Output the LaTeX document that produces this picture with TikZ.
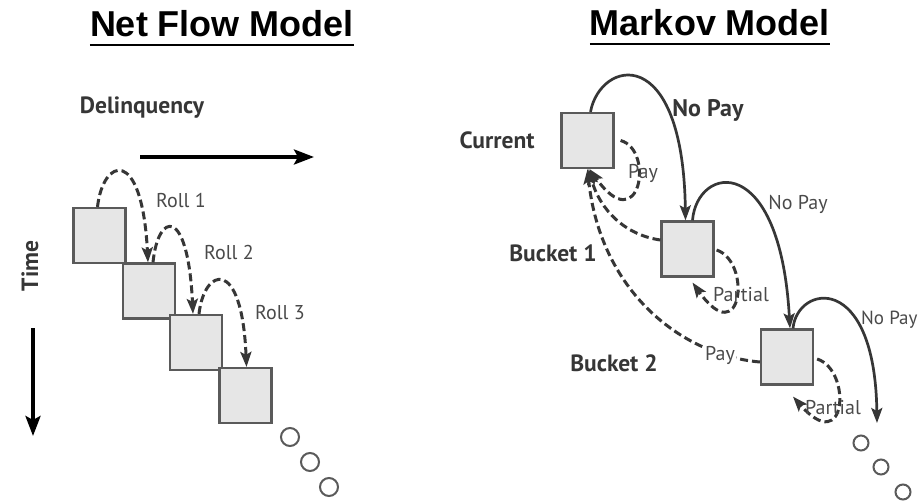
\documentclass[tikz,border=0pt]{standalone}
\usepackage{fontspec}
\setmainfont{PT Sans}
\newfontfamily\titlefont{Liberation Sans}
\usetikzlibrary{arrows.meta,calc}
\definecolor{ink}{HTML}{363636}
\definecolor{lightink}{HTML}{4A4A4A}
\definecolor{boxline}{HTML}{5A5A5A}
\definecolor{boxfill}{HTML}{E6E6E6}
\begin{document}
\begin{tikzpicture}[x=1pt,y=-1pt,
  sq/.style={draw=boxline,fill=boxfill,line width=2.2pt,minimum width=52pt,minimum height=55pt,inner sep=0pt},
  dflow/.style={draw=ink,dashed,dash pattern=on 8pt off 4pt,line width=3pt,-{Stealth[length=15pt,width=11pt,inset=3pt]}},
  solidarc/.style={draw=ink,line width=2.7pt,-{Stealth[length=15pt,width=11pt,inset=3pt]}},
  axisarrow/.style={draw=black,line width=3.6pt,-{Stealth[length=20pt,width=15pt,inset=4pt]}},
  dot/.style={draw=boxline,circle,line width=2pt,inner sep=0pt,minimum size=18pt},
  rdot/.style={draw=boxline,circle,line width=2pt,inner sep=0pt,minimum size=15pt},
  title/.style={font=\titlefont\bfseries\fontsize{36}{40}\selectfont,inner sep=0pt,anchor=base},
  blab/.style={font=\bfseries\fontsize{23.5}{25}\selectfont,text=ink,inner sep=0pt},
  rlab/.style={font=\fontsize{20}{22}\selectfont,text=lightink,inner sep=0pt}
]
\clip (0,0) rectangle (922,503);
\fill[white] (0,0) rectangle (922,503);

% titles
\node[title] (t1) at (222,37) {Net Flow Model};
\draw[line width=2.6pt] ($(t1.base west)+(0,8)$) -- ($(t1.base east)+(0,8)$);
\node[title] (t2) at (710,36) {Markov Model};
\draw[line width=2.6pt] ($(t2.base west)+(0,8)$) -- ($(t2.base east)+(0,8)$);

% ---------- Net flow model ----------
\node[blab] (del) at (142,108) {Delinquency};
\coordinate (da) at (140,157);
\coordinate (db) at (314,157);
\draw[axisarrow] (da) -- (db);
\node[blab,rotate=90] (time) at (30,266) {Time};
\coordinate (ta) at (33,328);
\coordinate (tb) at (33,436);
\draw[axisarrow] (ta) -- (tb);

\node[sq] (n1) at (99.5,235.5) {};
\node[sq] (n2) at (149,291) {};
\node[sq] (n3) at (196,342.5) {};
\node[sq] (n4) at (245.5,395.5) {};

\draw[dflow] ([xshift=-2pt]n1.north) .. controls (103,158) and (142,145) .. ([xshift=-1pt]n2.north);
\draw[dflow] ([xshift=4pt]n2.north) .. controls (158,212) and (188,205) .. ([xshift=-3pt]n3.north);
\draw[dflow] ([xshift=3pt]n3.north) .. controls (204,268) and (242,255) .. ([xshift=1pt]n4.north);

\node[rlab] (r1) at (181,200) {Roll 1};
\node[rlab] (r2) at (229,252) {Roll 2};
\node[rlab] (r3) at (280,313) {Roll 3};

\node[dot] (c1) at (290,437) {};
\node[dot] (c2) at (310,462) {};
\node[dot] (c3) at (329,487) {};

% ---------- Markov model ----------
\node[sq] (cur) at (587.5,140.5) {};
\node[sq] (b1) at (687.5,249) {};
\node[sq] (b2) at (787,357) {};

\node[blab] (lcur) at (497,140) {Current};
\node[blab] (lb1) at (553,253) {Bucket 1};
\node[blab] (lb2) at (614,363) {Bucket 2};

% no pay arcs
\draw[solidarc] ([xshift=3pt]cur.north) .. controls (600,60) and (683,40) .. ([xshift=-2pt]b1.north);
\draw[solidarc] ([xshift=5pt]b1.north) .. controls (697,165) and (780,150) .. ([xshift=3pt]b2.north);
\coordinate (np3end) at (877,423);
\draw[solidarc] ([xshift=6pt]b2.north) .. controls (797,285) and (875,270) .. (np3end);

\node[font=\bfseries\fontsize{24}{26}\selectfont,text=ink,inner sep=0pt] (np1) at (708,110) {No Pay};
\node[rlab] (np2) at (798,204) {No Pay};
\node[rlab,anchor=west,font=\fontsize{19}{21}\selectfont] (np3) at (861,320) {No Pay};

% pay / partial dashed arcs
\draw[dflow] ([xshift=6pt]cur.east) .. controls (655,150) and (640,240) .. ([xshift=2pt]cur.south);
\draw[dflow] ([yshift=9pt]b1.west) .. controls (625,235) and (600,210) .. ([xshift=1pt]cur.south);
\draw[dflow] ([yshift=-5pt]b2.west) .. controls (680,355) and (600,290) .. ([xshift=0pt]cur.south);
\draw[dflow] ([xshift=2pt,yshift=-1pt]b1.east) .. controls (752,262) and (742,352) .. ([xshift=5pt,yshift=-5pt]b1.south);
\draw[dflow] ([xshift=3pt,yshift=-2pt]b2.east) .. controls (852,370) and (847,458) .. ([xshift=6pt,yshift=-11pt]b2.south);

\node[rlab] (pay1) at (643,173) {Pay};
\node[rlab,fill=white,inner sep=1pt] (pay2) at (720,355) {Pay};
\node[rlab] (part1) at (741,295) {Partial};
\node[rlab] (part2) at (833,408) {Partial};

\node[rdot] (d1) at (861,443) {};
\node[rdot] (d2) at (881,467) {};
\node[rdot] (d3) at (903,492) {};
\end{tikzpicture}
\end{document}
